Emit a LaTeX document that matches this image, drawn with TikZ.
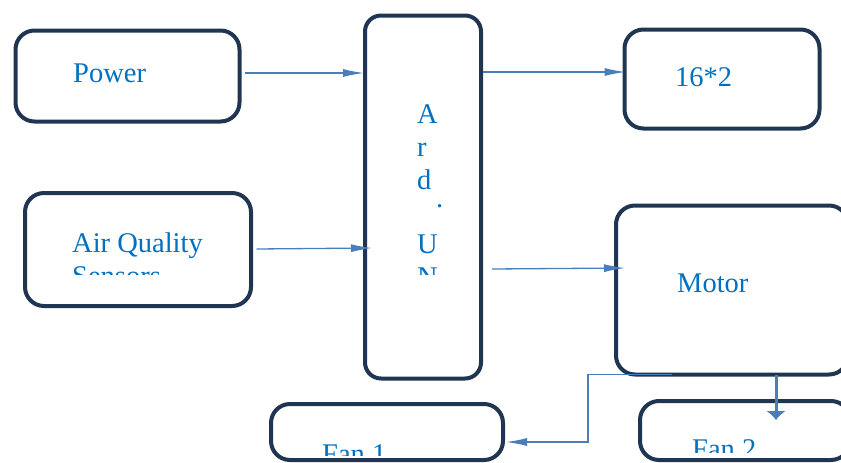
\documentclass[tikz,border=0pt]{standalone}
\usepackage{fontspec}
\setmainfont{Liberation Serif}
\usepackage{xcolor}
\usepackage{tikz}
\usetikzlibrary{arrows.meta}
\definecolor{boxline}{HTML}{1F3552}
\definecolor{boxtext}{HTML}{0070C0}
\definecolor{wireblue}{HTML}{4A7EBB}
\tikzset{
  block/.style={draw=boxline, line width=4pt, rounded corners=19pt, outer sep=0pt, inner sep=0pt},
  blocktext/.style={text=boxtext, inner sep=0pt, anchor=base west, font=\fontsize{28.5}{34}\selectfont},
  wire/.style={draw=wireblue, line width=1.3pt, -{Latex[length=21pt,width=8pt]}},
}

\begin{document}
\begin{tikzpicture}[x=1pt,y=-1pt]
  \clip (0,0) rectangle (841,463);
  \node[block, minimum width=224pt, minimum height=91pt] (power) at (127.5,76) {};
  \node[block, minimum width=116pt, minimum height=363pt, rounded corners=16pt] (ard) at (423,197) {};
  \node[block, minimum width=195pt, minimum height=99pt] (lcd) at (722,79) {};
  \node[block, minimum width=226pt, minimum height=113pt] (air) at (138,249.5) {};
  \node[block, minimum width=232pt, minimum height=169pt] (motor) at (732,290) {};
  \node[block, minimum width=232pt, minimum height=56pt] (fanA) at (387,432) {};
  \node[block, minimum width=210pt, minimum height=59pt] (fanB) at (745,430.5) {};

  \node[blocktext] (powertext) at (73,82) {Power};
  \node[blocktext] (lcdtext) at (675,86) {16*2};
  \node[blocktext] (motortext) at (677,292) {Motor};
  \node[blocktext] (airtext) at (72,252) {Air Quality};
  \begin{scope}
    \clip (0,0) rectangle (841,274);
    \node[blocktext] (airtext2) at (72,285.5) {Sensors};
    \foreach \ch/\yb [count=\i] in {A/123, r/156, d/189, U/253, N/286}
      \node[blocktext] (ard\i) at (417,\yb) {\ch};
    \node[blocktext] (arddot) at (436,207) {.};
  \end{scope}
  \begin{scope}
    \clip (0,0) rectangle (841,455);
    \node[blocktext] (fanAtext) at (322,463.5) {Fan 1};
  \end{scope}
  \begin{scope}
    \clip (0,0) rectangle (841,452);
    \node[blocktext] (fanBtext) at (692,458.5) {Fan 2};
  \end{scope}

  \draw[wire] ([xshift=5.5pt,yshift=3pt]power.east) -- ([xshift=-1pt,yshift=3pt]power.east -| ard.west);
  \draw[wire] ([xshift=5.5pt,yshift=.5pt]air.east) -- ([xshift=7pt,yshift=1.5pt]air.east -| ard.west);
  \draw[wire] ([xshift=2pt,yshift=7pt]ard.east |- lcd.west) -- ([xshift=1pt,yshift=7pt]lcd.west);
  \draw[wire] ([xshift=11pt,yshift=21pt]ard.east |- motor.west) -- ([xshift=9pt,yshift=22pt]motor.west);
  \draw[wire] ([xshift=-60pt]motor.south) -- ++(-84,0) |- ([xshift=3pt,yshift=-10pt]fanA.east);
  \draw[wire, line width=3pt, -{Latex[length=9pt,width=20pt]}] ([xshift=44pt]motor.south) -- ([xshift=44pt,yshift=-19pt]motor.south |- fanB.north);
\end{tikzpicture}
\end{document}
